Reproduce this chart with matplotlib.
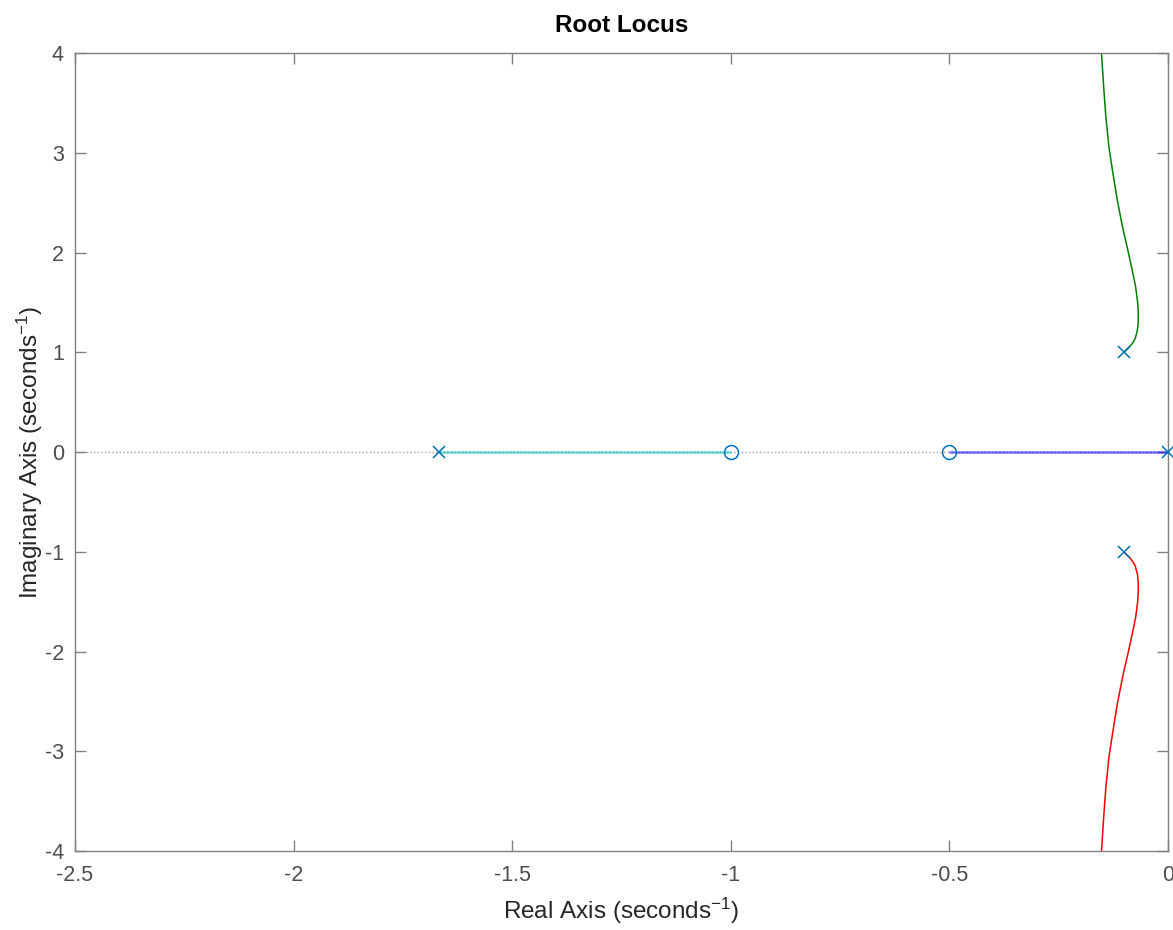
import numpy as np
import matplotlib.pyplot as plt

plt.rcParams['font.family'] = ['Liberation Sans', 'DejaVu Sans']
plt.rcParams['mathtext.default'] = 'regular'

# Poles and zeros
pole_re = [-1.667, 0.0, -0.1, -0.1]
pole_im = [0.0, 0.0, 1.0, -1.0]
zero_re = [-1.0, -0.5]
zero_im = [0.0, 0.0]

# Real-axis branches
cyan_re = [-1.667, -1.0]
blue_re = [0.0, -0.5]

# Complex branches
green_re = [-0.100, -0.094, -0.087, -0.080, -0.075, -0.070, -0.068, -0.068, -0.069, -0.074,
            -0.082, -0.092, -0.104, -0.116, -0.126, -0.135, -0.142, -0.147, -0.152]
green_im = [1.00, 1.03, 1.06, 1.10, 1.14, 1.22, 1.30, 1.40, 1.49, 1.66,
            1.83, 2.03, 2.26, 2.53, 2.80, 3.06, 3.36, 3.66, 4.00]
red_re = [-0.100, -0.094, -0.087, -0.080, -0.075, -0.070, -0.068, -0.068, -0.069, -0.074,
          -0.082, -0.092, -0.104, -0.116, -0.126, -0.135, -0.142, -0.147, -0.152]
red_im = [-1.00, -1.03, -1.06, -1.10, -1.14, -1.22, -1.30, -1.40, -1.49, -1.66,
          -1.83, -2.03, -2.26, -2.53, -2.80, -3.06, -3.36, -3.66, -4.00]

xticks = [-2.5, -2, -1.5, -1, -0.5, 0]
yticks = [-4, -3, -2, -1, 0, 1, 2, 3, 4]

tick_gray = '#4d4d4d'
spine_gray = '#808080'
mk_blue = '#0072BD'

fig = plt.figure(figsize=(11.73, 9.30), dpi=100)
ax = fig.add_axes([0.0639, 0.0849, 0.9318, 0.8578])

# dotted zero lines
ax.axhline(0, color='#a0a0a0', linestyle=':', linewidth=1, zorder=1)
ax.axvline(0, color='#a0a0a0', linestyle=':', linewidth=1, zorder=1)

ax.plot(cyan_re, [0, 0], color='#00bfbf', linewidth=1.8, alpha=0.55, zorder=2,
        solid_capstyle='butt')
ax.plot(blue_re, [0, 0], color='#0000ff', linewidth=1.8, alpha=0.55, zorder=2,
        solid_capstyle='butt')
ax.plot(green_re, green_im, color='#008000', linewidth=1.1, zorder=2)
ax.plot(red_re, red_im, color='#ff0000', linewidth=1.1, zorder=2)

ax.plot(pole_re, pole_im, linestyle='none', marker='x', markersize=9,
        markeredgewidth=1.1, color=mk_blue, zorder=3, clip_on=False)
ax.plot(zero_re, zero_im, linestyle='none', marker='o', markersize=10,
        markerfacecolor='none', markeredgewidth=1.1, color=mk_blue, zorder=3)

ax.set_xlim(-2.5, 0)
ax.set_ylim(-4, 4)
ax.set_xticks(xticks)
ax.set_xticklabels(['-2.5', '-2', '-1.5', '-1', '-0.5', '0'])
ax.set_yticks(yticks)
ax.set_yticklabels([str(v) for v in yticks])

ax.tick_params(direction='in', top=True, right=True, length=8, width=1,
               color=spine_gray, labelcolor=tick_gray, labelsize=15.5)
ax.tick_params(axis='x', pad=10)
ax.tick_params(axis='y', pad=8)
for s in ax.spines.values():
    s.set_color(spine_gray)
    s.set_linewidth(1)

ax.set_title('Root Locus', fontsize=17.5, fontweight='bold', pad=15)
ax.set_xlabel('Real Axis (seconds$^{-1}$)', fontsize=17.5, color='#262626', labelpad=7)
ax.set_ylabel('Imaginary Axis (seconds$^{-1}$)', fontsize=17.5, color='#262626', labelpad=0)

fig.savefig('out.png', dpi=100, facecolor='white')
